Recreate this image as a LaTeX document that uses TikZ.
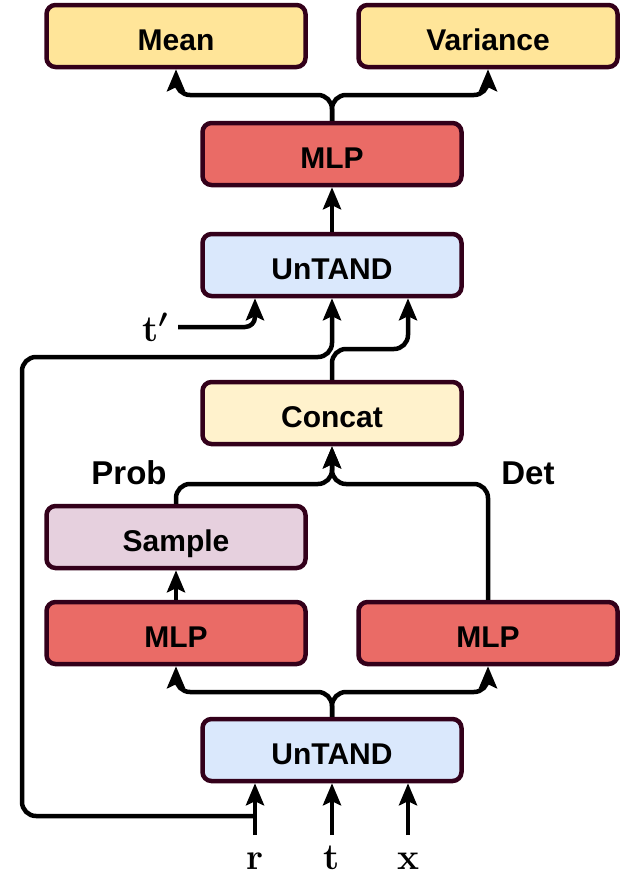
\RequirePackage{fix-cm}
\documentclass[tikz,border=0pt]{standalone}
\usepackage[no-math]{fontspec}
\newfontfamily\hfont{Liberation Sans}
\usetikzlibrary{arrows.meta}
\definecolor{bord}{HTML}{33001A}
\definecolor{meanc}{HTML}{FFE599}
\definecolor{mlpc}{HTML}{EA6B66}
\definecolor{untc}{HTML}{DAE8FC}
\definecolor{catc}{HTML}{FFF2CC}
\definecolor{sampc}{HTML}{E6D0DE}
\tikzset{
 box/.style={draw=bord, line width=4.5pt, rounded corners=9pt, minimum width=259pt, minimum height=62pt, text height=28pt, text depth=0pt, font=\hfont\fontsize{30}{36}\selectfont\bfseries, text=black},
 conn/.style={line width=4.5pt, -{Stealth[length=22pt,width=18pt,inset=4pt]}, rounded corners=14pt},
 lbl/.style={font=\hfont\fontsize{33}{38}\selectfont\bfseries},
 invar/.style={font=\fontsize{37}{42}\selectfont\bfseries\boldmath, inner sep=0pt, anchor=base},
}
\begin{document}
\begin{tikzpicture}[x=1pt,y=-1pt]
\useasboundingbox (0,0) rectangle (623,886);
\node[box, fill=meanc] (mean) at (176,36) {Mean};
\node[box, fill=meanc] (var) at (488,36) {Variance};
\node[box, fill=mlpc] (mlp3) at (332,154) {MLP};
\node[box, fill=untc] (unt2) at (332,265) {UnTAND};
\node[box, fill=catc] (concat) at (332,413) {Concat};
\node[box, fill=sampc] (sample) at (176,537) {Sample};
\node[box, fill=mlpc] (mlp1) at (176,633) {MLP};
\node[box, fill=mlpc] (mlp2) at (488,633) {MLP};
\node[box, fill=untc] (unt1) at (332,750) {UnTAND};
\node[lbl] (prob) at (129,473) {Prob};
\node[lbl] (det) at (528,473) {Det};
\node[invar] (r) at (255,869) {r};
\node[invar] (t) at (332,869) {t};
\node[invar] (x) at (408,869) {x};
\node[invar] (tp) at (155,341) {t$'$};
\coordinate (rin) at (255,835);
\coordinate (tin) at (332,835);
\coordinate (xin) at (408,835);
\coordinate (rloop) at (255,816);
\coordinate (tps) at (178,327);
% inputs
\draw[conn] (rin) -- (rin |- unt1.south);
\draw[conn] (tin) -- (tin |- unt1.south);
\draw[conn] (xin) -- (xin |- unt1.south);
% loop from r
\draw[conn] (rloop) -- (22,816) -- (22,357) -- (332,357) -- (unt2.south);
% bottom untand to MLPs
\draw[conn] (unt1.north) -- (332,692) -| (mlp1.south);
\draw[conn] (unt1.north) -- (332,692) -| (mlp2.south);
\draw[conn] (mlp1.north) -- (sample.south);
% to concat
\draw[conn] (sample.north) -- (176,484) -| (concat.south);
\draw[conn] (mlp2.north) -- (488,484) -| (concat.south);
% concat to untand
\draw[conn] (concat.north) -- (332,349) -| ([xshift=76pt]unt2.south);
\draw[conn, rounded corners=10pt] (tps) -| ([xshift=-77pt]unt2.south);
% top
\draw[conn] (unt2.north) -- (mlp3.south);
\draw[conn] (mlp3.north) -- (332,95) -| (mean.south);
\draw[conn] (mlp3.north) -- (332,95) -| (var.south);
\end{tikzpicture}
\end{document}
